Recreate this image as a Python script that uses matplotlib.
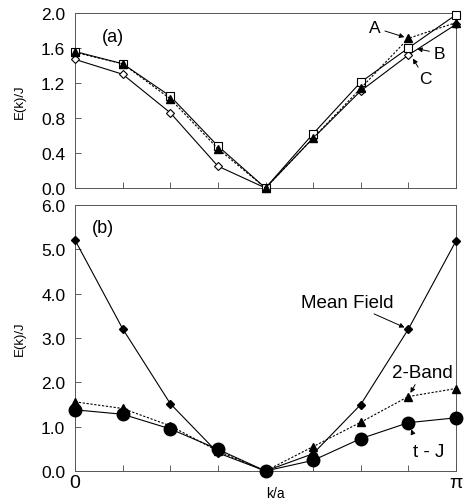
import matplotlib
matplotlib.use("Agg")
import matplotlib.pyplot as plt
import numpy as np

plt.rcParams['font.family'] = ['Liberation Sans', 'DejaVu Sans']

k = [0, 1, 2, 3, 4, 5, 6, 7, 8]

# Panel (a)
a_A = [1.55, 1.42, 1.02, 0.45, 0.0, 0.57, 1.14, 1.71, 1.89]
a_B = [1.56, 1.42, 1.05, 0.48, 0.0, 0.62, 1.21, 1.60, 1.98]
a_C = [1.47, 1.30, 0.86, 0.25, 0.0, 0.57, 1.11, 1.52, 1.87]

# Panel (b)
b_mf = [5.21, 3.21, 1.52, 0.41, 0.0, 0.39, 1.50, 3.20, 5.19]
b_2band = [1.56, 1.41, 1.02, 0.45, 0.0, 0.55, 1.10, 1.68, 1.86]
b_tj = [1.38, 1.28, 0.95, 0.49, 0.0, 0.24, 0.73, 1.09, 1.20]

a_yticks = [0.0, 0.4, 0.8, 1.2, 1.6, 2.0]
b_yticks = [0.0, 1.0, 2.0, 3.0, 4.0, 5.0, 6.0]
x_ticklabels = ['0', '', '', '', '', '', '', '', 'π']

fig = plt.figure(figsize=(4.66, 5.02), dpi=100)
W, H = 466, 502
def pos(l, t, r, b):
    return [l / W, 1 - b / H, (r - l) / W, (b - t) / H]

axa = fig.add_axes(pos(75, 14, 456, 189))
axb = fig.add_axes(pos(75, 206, 456, 472))

lw = 0.8
axa.plot(k, a_C, color='black', lw=lw, marker='D', ms=4, mfc='white', mec='black', mew=0.8, clip_on=False, zorder=3)
axa.plot(k, a_B, color='black', lw=lw, marker='s', ms=6, mfc='white', mec='black', mew=0.8, clip_on=False, zorder=4)
axa.plot(k, a_A, color='black', lw=lw, ls=(0, (2, 1.5)), marker='^', ms=6, mfc='black', mec='black', clip_on=False, zorder=5)

axb.plot(k, b_mf, color='black', lw=lw, marker='D', ms=4, mfc='black', mec='black', clip_on=False, zorder=3)
axb.plot(k, b_2band, color='black', lw=lw, ls=(0, (2, 1.5)), marker='^', ms=6, mfc='black', mec='black', clip_on=False, zorder=4)
axb.plot(k, b_tj, color='black', lw=lw, marker='o', ms=9, mfc='black', mec='black', clip_on=False, zorder=5)

for ax in (axa, axb):
    ax.set_xlim(0, 8)
    ax.set_xticks(k)
    ax.tick_params(direction='in', length=4, width=0.6, colors='#444444', labelcolor='black', labelsize=12.5, pad=7)
    for s in ax.spines.values():
        s.set_linewidth(0.7)
        s.set_color('#555555')

axa.set_ylim(0, 2.0)
axa.set_yticks(a_yticks)
axa.set_yticklabels([f'{v:.1f}' for v in a_yticks])
axa.set_xticklabels([])
axa.set_ylabel('E(k)/J', fontsize=9.5)
axa.yaxis.set_label_coords(-0.128, 0.5)
axa.text(0.57, 1.73, '(a)', fontsize=13, va='center')

axb.set_ylim(0, 6.0)
axb.set_yticks(b_yticks)
axb.set_yticklabels([f'{v:.1f}' for v in b_yticks])
axb.set_xticklabels(x_ticklabels, fontsize=14)
axb.tick_params(axis='x', pad=2)
axb.set_ylabel('E(k)/J', fontsize=9.5)
axb.yaxis.set_label_coords(-0.128, 0.5)
axb.set_xlabel('k/a', fontsize=10)
axb.xaxis.set_label_coords(0.525, -0.055)
axb.text(0.36, 5.5, '(b)', fontsize=13, va='center')

arr = dict(arrowstyle='-|>', color='black', lw=0.7, mutation_scale=7, shrinkA=1, shrinkB=3)
axa.annotate('A', xy=(7, a_A[7]), xytext=(6.3, 1.83), fontsize=12.5, ha='center', va='center', arrowprops=arr)
axa.annotate('B', xy=(7.1, a_B[7]), xytext=(7.65, 1.54), fontsize=12.5, ha='center', va='center', arrowprops=arr)
axa.annotate('C', xy=(7.05, a_C[7]), xytext=(7.35, 1.25), fontsize=12.5, ha='center', va='center', arrowprops=arr)

axb.annotate('Mean Field', xy=(7, b_mf[7]), xytext=(5.72, 3.81), fontsize=13.5, ha='center', va='center', arrowprops=arr)
axb.annotate('2-Band', xy=(7, b_2band[7]), xytext=(7.29, 2.23), fontsize=13.5, ha='center', va='center', arrowprops=arr)
axb.annotate('t - J', xy=(7.02, b_tj[7]), xytext=(7.42, 0.45), fontsize=13.5, ha='center', va='center',
             arrowprops=dict(arrowstyle='-|>', color='black', lw=0.7, mutation_scale=7, shrinkA=6, shrinkB=5,
                             connectionstyle='arc3,rad=-0.2'))

fig.savefig('out.png', dpi=100)
